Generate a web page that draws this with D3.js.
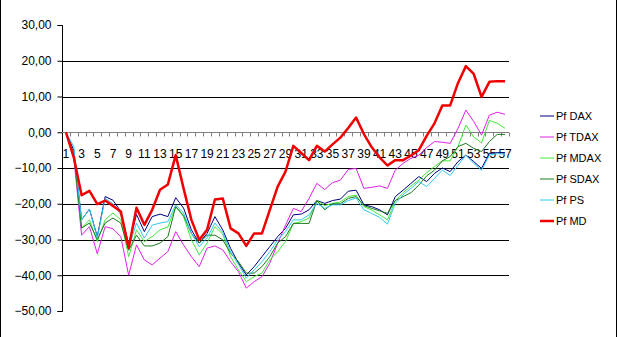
<!DOCTYPE html>
<html><head><meta charset="utf-8">
<script src="https://cdn.jsdelivr.net/npm/d3@7"></script>
<style>body{margin:0;background:#fff}svg{display:block;font-family:"Liberation Sans",Arial,sans-serif}</style>
</head><body>
<svg id="c" width="617" height="337"></svg>
<script>
const categories = d3.range(1, 58);
const yTicks = [-50, -40, -30, -20, -10, 0, 10, 20, 30];
const seriesNames = ["Pf DAX", "Pf TDAX", "Pf MDAX", "Pf SDAX", "Pf PS", "Pf MD"];
const pfDAX = [0,-5,-24.5,-21.5,-29.2,-18,-19,-22.2,-31.5,-23,-27.8,-23.6,-22.9,-23.6,-18.3,-21.2,-27.3,-31,-28.3,-23.6,-27.3,-32.5,-36.6,-39.9,-37.6,-34.8,-32,-29.2,-26.9,-23.1,-22.9,-21.7,-19.1,-19.9,-19.1,-18.7,-16.5,-16.2,-20.3,-20.8,-21.7,-23.1,-18,-16.2,-14.3,-12.4,-13.8,-11.5,-10,-11,-8.2,-6.4,-8.2,-10.1,-5.9,-5.7,-5.7];
const pfTDAX = [0,-7,-28.8,-26.4,-34,-26.4,-27,-29.2,-40,-31.5,-35.7,-37.1,-35.2,-33.4,-27.8,-31.5,-34.8,-37.6,-32.4,-31.8,-32.9,-36.2,-39,-43.6,-41.8,-40.4,-36.6,-31.1,-26,-21.3,-22.2,-18.5,-14.3,-16,-14.1,-13.4,-10.4,-10.1,-15.7,-15.4,-15,-15.7,-10.6,-8.7,-7.3,-6.4,-4.3,-2.6,-2.8,-3.1,1.1,6.2,3,-0.8,4.8,5.6,5.0];
const pfMDAX = [0,-6,-26.8,-24.5,-30.6,-24.5,-22.6,-24.5,-34.8,-27.3,-30.6,-29.2,-27.3,-26.5,-20.8,-23.6,-30.1,-34.3,-31,-26.4,-28.5,-34.8,-38.5,-41.8,-40.4,-39.4,-35.7,-33.4,-30.6,-25.5,-25,-24,-19.1,-20.5,-19.9,-19.5,-18,-17.6,-20.8,-21.8,-23.1,-24.5,-19.1,-16.9,-15,-13.4,-11.3,-9.6,-8,-8,-4,2,-1.3,-3,3.3,2.5,1.1];
const pfSDAX = [0,-6,-26.8,-25.4,-30,-25.4,-24,-25.4,-33,-28.8,-31.8,-31.8,-31,-29.2,-20.8,-23.3,-28.3,-31,-28.8,-28.8,-30.1,-33.8,-36.2,-39.4,-39.4,-37.6,-34.8,-31,-29.2,-25.5,-25.5,-25.5,-19.1,-21.7,-20,-20,-18.5,-18,-20.5,-21.3,-22,-22.7,-19.1,-18,-16.9,-14.8,-12.2,-10.6,-8,-6.8,-4,-3.1,-4.5,-5.4,-2.6,-0.6,-0.6];
const pfPS = [0,-4,-24.5,-21.5,-29.5,-18.5,-20,-23,-32.4,-25.4,-29.6,-26,-25.4,-25,-20.3,-22.6,-28.3,-32,-29.6,-25.4,-28,-33.5,-37,-40.8,-38.5,-36.2,-33.4,-30.1,-27.8,-24.5,-24.5,-23.1,-19.9,-21.3,-20.3,-20.3,-19.1,-18.4,-21.7,-22.7,-23.8,-25.7,-19.9,-17.5,-15.7,-13.8,-15.2,-12.9,-10.6,-12.1,-9.2,-6.4,-8.7,-10.6,-6.4,-6,-6.1];
const pfMD = [0,-7,-17.6,-16.4,-20.1,-19.1,-20.6,-22.2,-32.4,-21.1,-25.9,-21.7,-16.1,-14.6,-6.4,-15.7,-24.5,-30.1,-27.3,-18.8,-18.5,-26.9,-28.3,-31.8,-28.3,-28.3,-21.7,-15.2,-11,-3.8,-5.8,-7.8,-3.8,-5.4,-3.4,-1.5,1.2,4.1,-0.5,-4.2,-7,-9.3,-7.8,-7.8,-6.5,-5,-1,2.5,7.5,7.5,13.8,18.5,16.3,9.9,14.1,14.3,14.3];

const seriesData = [pfDAX, pfTDAX, pfMDAX, pfSDAX, pfPS, pfMD];
const colors = ["#000080", "#e020e8", "#44e83a", "#1d7a1d", "#30c8f0", "#f00000"];
const widths = [1, 1, 1, 1, 1, 2.5];

const svg = d3.select("#c");
const x = d3.scaleBand().domain(categories).range([62, 509]).padding(0);
const y = d3.scaleLinear().domain([-50, 30]).range([311, 25]);
const cx = d => x(d) + x.bandwidth() / 2;

// outer border
svg.append("line").attr("x1",0.5).attr("x2",0.5).attr("y1",0).attr("y2",337).attr("stroke","#000");
svg.append("line").attr("x1",616.5).attr("x2",616.5).attr("y1",0).attr("y2",337).attr("stroke","#000");

// gridlines
svg.append("g").selectAll("line").data(yTicks.filter(t => t !== 0 && t !== 30 && t !== -50)).join("line")
  .attr("x1", 62).attr("x2", 509)
  .attr("y1", d => Math.round(y(d)) + 0.5).attr("y2", d => Math.round(y(d)) + 0.5)
  .attr("stroke", "#000").attr("stroke-width", 1);

// y axis
const yAxis = d3.axisLeft(y).tickValues(yTicks).tickSize(5).tickPadding(6)
  .tickFormat(d => d3.format(".2f")(d).replace(".", ","));
const gy = svg.append("g").attr("transform", "translate(62.5,0)").call(yAxis);
gy.select(".domain").attr("stroke", "#000").attr("d", "M-5,25.5H0V311.5H-5");
gy.selectAll(".tick line").attr("stroke", "#000");
gy.selectAll("text").attr("font-size", 12).attr("fill", "#000").attr("font-family", "Liberation Sans, Arial, sans-serif");

// x axis at y=0
const y0 = Math.round(y(0)) + 0.5;
const gx = svg.append("g");
gx.append("line").attr("x1", 62).attr("x2", 509).attr("y1", y0).attr("y2", y0).attr("stroke", "#808080");
gx.selectAll("line.t").data(categories).join("line").attr("class", "t")
  .attr("x1", d => Math.round(x(d) + x.bandwidth()) + 0.5).attr("x2", d => Math.round(x(d) + x.bandwidth()) + 0.5)
  .attr("y1", y0).attr("y2", y0 + 4).attr("stroke", "#808080");
gx.selectAll("text").data(categories.filter(d => d % 2 === 1)).join("text")
  .attr("x", d => cx(d)).attr("y", y0 + 25)
  .attr("text-anchor", "middle").attr("font-size", 12).attr("fill", "#000")
  .text(d => d);

// lines
const line = d3.line().x((d, i) => cx(categories[i])).y(d => y(d));
seriesData.forEach((s, k) => {
  svg.append("path").datum(s).attr("d", line).attr("fill", "none")
    .attr("stroke", colors[k]).attr("stroke-width", widths[k]).attr("stroke-linejoin", "round");
});

// legend
const lg = svg.append("g");
seriesNames.forEach((n, k) => {
  const yy = 116 + k * 21;
  lg.append("line").attr("x1", 540).attr("x2", 554).attr("y1", yy).attr("y2", yy)
    .attr("stroke", colors[k]).attr("stroke-width", widths[k]);
  lg.append("text").attr("x", 556).attr("y", yy + 4).attr("font-size", 11).attr("fill", "#000").text(n);
});
</script>
</body></html>
